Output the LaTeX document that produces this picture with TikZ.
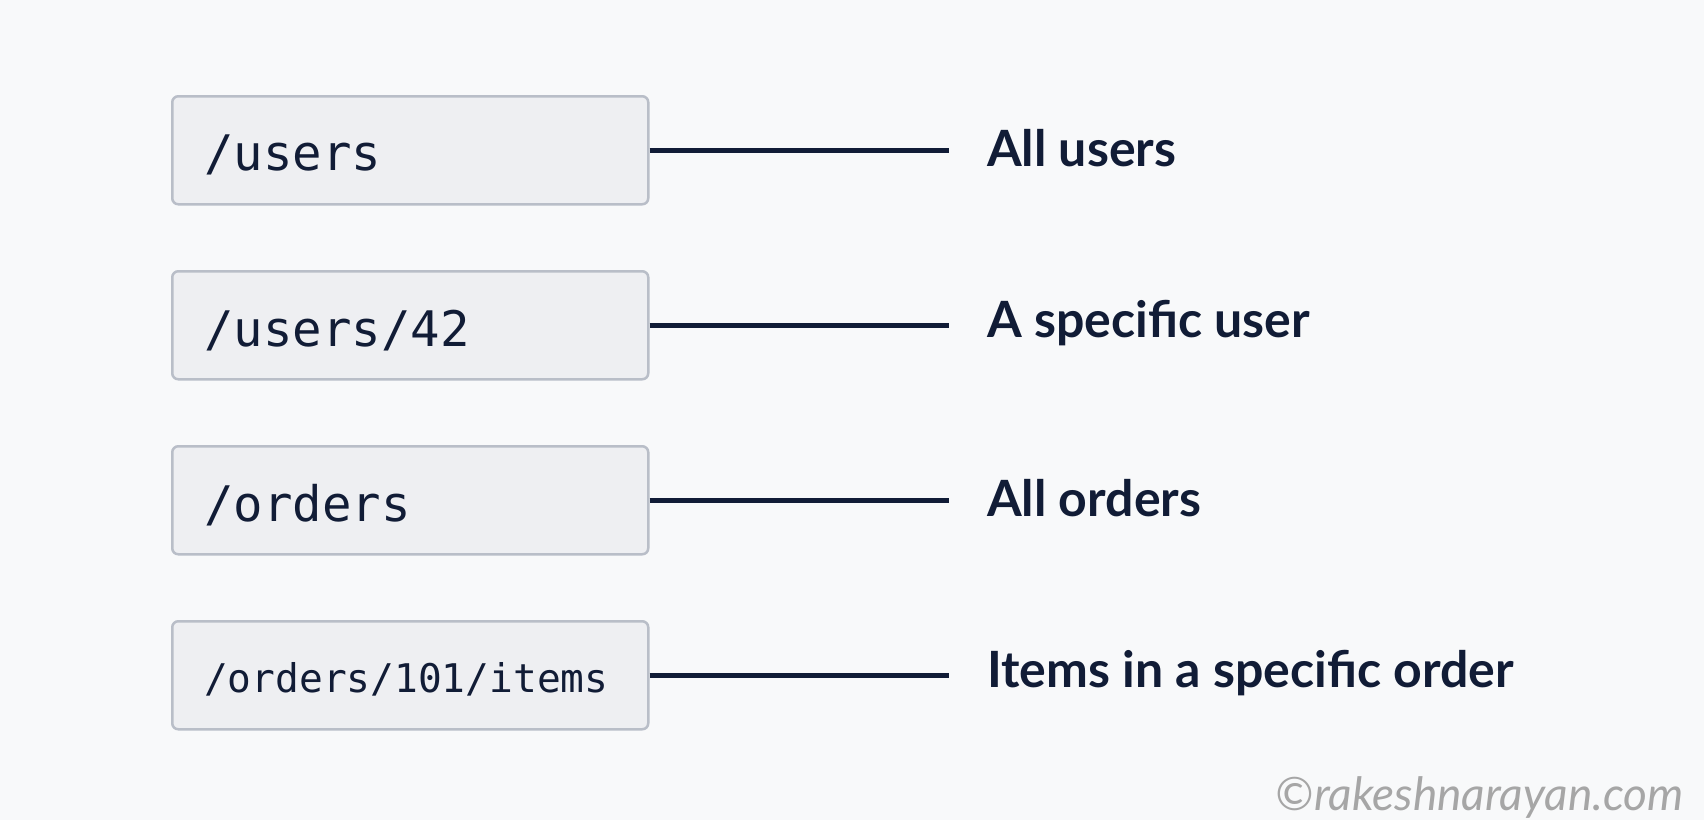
\documentclass[tikz,border=0pt]{standalone}
\usepackage{fontspec}
\setmainfont{Lato}
\setmonofont{DejaVu Sans Mono}
\definecolor{navy}{HTML}{111C36}
\definecolor{boxfill}{HTML}{EEEFF2}
\definecolor{boxline}{HTML}{B9BEC8}
\definecolor{bg}{HTML}{F8F9FA}
\begin{document}
\begin{tikzpicture}[x=1pt,y=-1pt,
  ep/.style={draw=boxline,line width=2.5pt,fill=boxfill,rounded corners=6pt,minimum width=476pt,minimum height=108pt,anchor=north west,text=navy,font=\ttfamily\fontsize{49}{54}\selectfont,align=left,text width=410pt,inner xsep=33pt},
  lbl/.style={anchor=west,text=navy,inner sep=0pt},
  desc/.style={anchor=west,text=navy,font=\bfseries\fontsize{50}{56}\selectfont,inner sep=0pt},
  link/.style={navy,line width=4.5pt}]
\useasboundingbox (0,0) rectangle (1704,820);
\fill[bg] (0,0) rectangle (1704,820);
\node[ep] (e1) at (171,95) {};
\node[ep] (e2) at (171,270) {};
\node[ep] (e3) at (171,445) {};
\node[ep] (e4) at (171,620) {};
\node[lbl,font=\ttfamily\fontsize{49}{54}\selectfont] (t1) at ([xshift=33pt,yshift=-5pt]e1.west) {/users};
\node[lbl,font=\ttfamily\fontsize{49}{54}\selectfont] (t2) at ([xshift=33pt,yshift=-5pt]e2.west) {/users/42};
\node[lbl,font=\ttfamily\fontsize{49}{54}\selectfont] (t3) at ([xshift=33pt,yshift=-5pt]e3.west) {/orders};
\node[lbl,font=\ttfamily\fontsize{39.5}{46}\selectfont] (t4) at ([xshift=33pt,yshift=-4pt]e4.west) {/orders/101/items};
\foreach \i in {1,...,4} {
  \coordinate (c\i) at (e\i.east -| 949,0);
}
\node[desc] (d1) at ([yshift=2pt]c1 -| 987,0) {All users};
\node[desc] (d2) at ([yshift=2pt]c2 -| 987,0) {A specific user};
\node[desc] (d3) at ([yshift=2pt]c3 -| 987,0) {All orders};
\node[desc] (d4) at ([yshift=2pt]c4 -| 987,0) {Items in a specific order};
\foreach \i in {1,...,4} \draw[link] (e\i.east) -- (c\i);
\node[anchor=east,text=gray!70,font=\itshape\fontsize{46}{52}\selectfont,inner sep=0pt] (wm) at (1684,797) {©rakeshnarayan.com};
\end{tikzpicture}
\end{document}
